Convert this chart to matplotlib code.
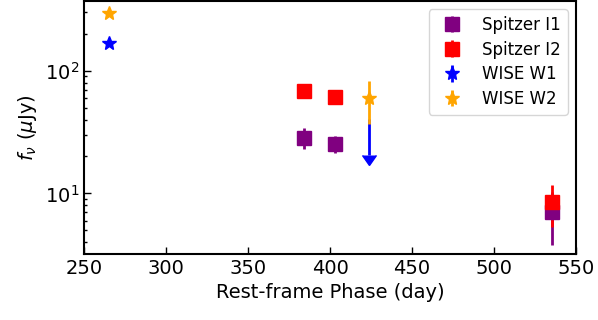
import numpy as np
import matplotlib
matplotlib.use('Agg')
import matplotlib.pyplot as plt

# Spitzer IRAC
i1_phase = [384.3, 403.2, 535.2]
i1_flux = [28.5, 25.4, 7.0]
i1_err = [5.5, 4.0, 3.2]

i2_phase = [384.3, 403.2, 535.2]
i2_flux = [68.5, 61.3, 8.5]
i2_err = [3.0, 3.0, 3.2]

# WISE
w1_phase = [265.0]
w1_flux = [167.0]
w1_err = [4.0]
w1_lim_phase = [423.6]
w1_lim_flux = [40.2]
w1_lim_err = [19.7]

w2_phase = [265.0, 423.6]
w2_flux = [294.0, 59.6]
w2_err = [6.0, 23.0]

fig = plt.figure(figsize=(5.98, 3.2), dpi=100)
ax = fig.add_subplot(111)
fig.subplots_adjust(left=0.1405, right=0.9632, top=0.997, bottom=0.206)

ax.errorbar(i1_phase, i1_flux, yerr=i1_err, fmt='s', color='purple', ms=10,
            elinewidth=2, label='Spitzer I1')
ax.errorbar(i2_phase, i2_flux, yerr=i2_err, fmt='s', color='red', ms=10,
            elinewidth=2, label='Spitzer I2')
ax.errorbar(w1_phase, w1_flux, yerr=w1_err, fmt='*', color='blue', ms=10,
            elinewidth=2, label='WISE W1')
# W1 upper limit
eb = ax.errorbar(w1_lim_phase, w1_lim_flux, yerr=w1_lim_err, uplims=True,
                 fmt='none', ecolor='blue', elinewidth=2)
for cap in eb[1]:
    cap.set_markersize(10)
    cap.set_color('blue')
    cap.set_markerfacecolor('blue')
    cap.set_markeredgecolor('blue')
ax.errorbar(w2_phase, w2_flux, yerr=w2_err, fmt='*', color='orange', ms=10,
            elinewidth=2, label='WISE W2')

ax.set_yscale('log')
ax.set_xlim(250, 550)
ax.set_ylim(3.2, 371)
ax.set_xlabel('Rest-frame Phase (day)', fontsize=14)
ax.set_ylabel(r'$f_{\nu}$ ($\mu$Jy)', fontsize=14)
ax.tick_params(which='both', direction='in', labelsize=14)
ax.tick_params(which='major', length=5, width=1)
ax.tick_params(which='minor', length=2.5, width=1)
for s in ax.spines.values():
    s.set_linewidth(1.5)

ax.legend(loc='upper right', fontsize=12, labelspacing=0.4)

plt.savefig('out.png', dpi=100)
